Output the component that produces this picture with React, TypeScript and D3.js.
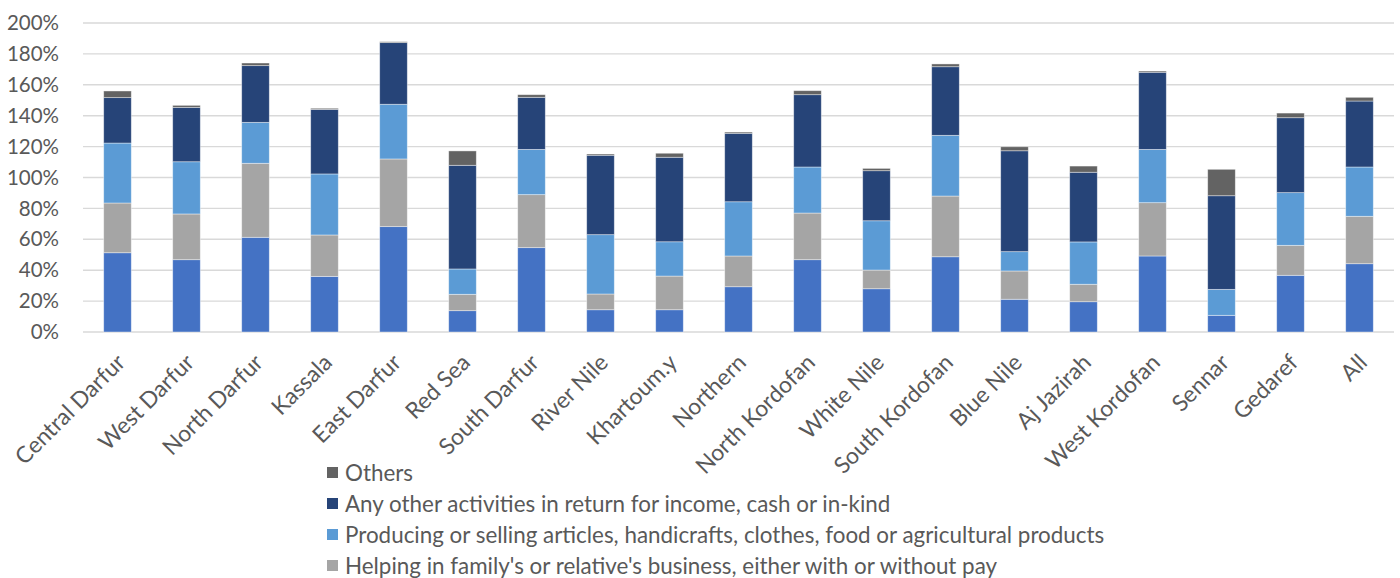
import React from "react";
import * as d3 from "d3";

// States (plus the national total) along the x axis
const categories = [
  "Central Darfur", "West Darfur", "North Darfur", "Kassala", "East Darfur",
  "Red Sea", "South Darfur", "River Nile", "Khartoum.y", "Northern",
  "North Kordofan", "White Nile", "South Kordofan", "Blue Nile", "Aj Jazirah",
  "West Kordofan", "Sennar", "Gedaref", "All",
];

// Share of children (%) by type of work, stacked bottom to top
const paidWork = [51.3, 46.8, 61.3, 36.0, 68.2, 13.8, 54.6, 14.4, 14.4, 29.3, 46.8, 28.0, 48.7, 21.2, 19.6, 49.2, 10.8, 36.7, 44.2];
const helpingFamily = [32.2, 29.6, 47.9, 26.8, 43.8, 10.6, 34.3, 10.2, 21.8, 19.9, 30.2, 12.1, 39.3, 18.3, 11.3, 34.5, 0, 19.4, 30.7];
const producingSelling = [38.8, 33.8, 26.5, 39.5, 35.4, 16.4, 29.3, 38.4, 22.2, 35.1, 29.8, 31.9, 39.3, 12.5, 27.4, 34.5, 16.8, 34.1, 31.9];
const otherActivities = [29.4, 35.2, 36.7, 41.8, 39.9, 67.1, 33.7, 51.4, 54.7, 44.3, 46.8, 32.4, 44.4, 65.3, 45.1, 49.9, 60.6, 48.5, 42.7];
const others = [4.3, 1.3, 1.7, 0.7, 0.6, 9.3, 1.7, 0.8, 2.6, 0.8, 2.6, 1.5, 1.8, 2.6, 4.0, 0.8, 17.1, 3.0, 2.4];

const seriesKeys = ["paid", "helping", "producing", "other", "others"];
const seriesNames: Record<string, string> = {
  helping: "Helping in family's or relative's business, either with or without pay",
  producing: "Producing or selling articles, handicrafts, clothes, food or agricultural products",
  other: "Any other activities in return for income, cash or in-kind",
  others: "Others",
};
const seriesColors: Record<string, string> = {
  paid: "#4472C4",
  helping: "#A5A5A5",
  producing: "#5B9BD5",
  other: "#264478",
  others: "#636363",
};
// Legend entries, top to bottom (the list runs past the bottom edge)
const legendKeys = ["others", "other", "producing", "helping"];
const yTicks = [0, 20, 40, 60, 80, 100, 120, 140, 160, 180, 200];

const W = 1400;
const H = 578;
const FONT = "Lato, 'Open Sans', sans-serif";
const TEXT = "#595959";

export default function App() {
  const rows = categories.map((c, i) => ({
    category: c,
    paid: paidWork[i],
    helping: helpingFamily[i],
    producing: producingSelling[i],
    other: otherActivities[i],
    others: others[i],
  }));

  const stacked = d3.stack<any>().keys(seriesKeys)(rows);

  const x = d3.scaleBand<string>()
    .domain(categories)
    .range([83, 1394])
    .paddingInner(0.6)
    .paddingOuter(0.3);
  const y = d3.scaleLinear().domain([0, 200]).range([332, 23]);

  return (
    <svg
      width={W}
      height={H}
      style={{ position: "absolute", left: 0, top: 0, display: "block", background: "#fff" }}
      fontFamily={FONT}
    >
      {/* gridlines */}
      {yTicks.map((t) => (
        <line key={"g" + t} x1={83} x2={1394} y1={y(t)} y2={y(t)} stroke="#D9D9D9" strokeWidth={1.4} />
      ))}
      {/* y tick labels */}
      {yTicks.map((t) => (
        <text key={"t" + t} x={59} y={y(t)} dy="0.35em" textAnchor="end" fontSize={20.5} fill={TEXT}>
          {t + "%"}
        </text>
      ))}
      {/* stacked bars */}
      {stacked.map((s) => (
        <g key={s.key} fill={seriesColors[s.key]}>
          {s.map((d, i) => {
            const h = y(d[0]) - y(d[1]);
            if (h <= 0) return null;
            return (
              <rect
                key={i}
                x={x(categories[i])!}
                y={y(d[1])}
                width={x.bandwidth()}
                height={h}
                stroke="#ffffff"
                strokeOpacity={0.5}
                strokeWidth={0.8}
              />
            );
          })}
        </g>
      ))}
      {/* x labels */}
      {categories.map((c) => {
        const cx = x(c)! + x.bandwidth() / 2;
        return (
          <text
            key={"x" + c}
            transform={`translate(${cx + 9},${y(0) + 32}) rotate(-45)`}
            textAnchor="end"
            fontSize={22.8}
            fill={TEXT}
          >
            {c}
          </text>
        );
      })}
      {/* legend */}
      {legendKeys.map((key, k) => {
        const cy = 473 + k * 31;
        return (
          <g key={"l" + key}>
            <rect x={327} y={cy - 6} width={11} height={11} fill={seriesColors[key]} />
            <text x={345} y={cy} dy="0.35em" fontSize={22.4} fill={TEXT}>
              {seriesNames[key]}
            </text>
          </g>
        );
      })}
    </svg>
  );
}
